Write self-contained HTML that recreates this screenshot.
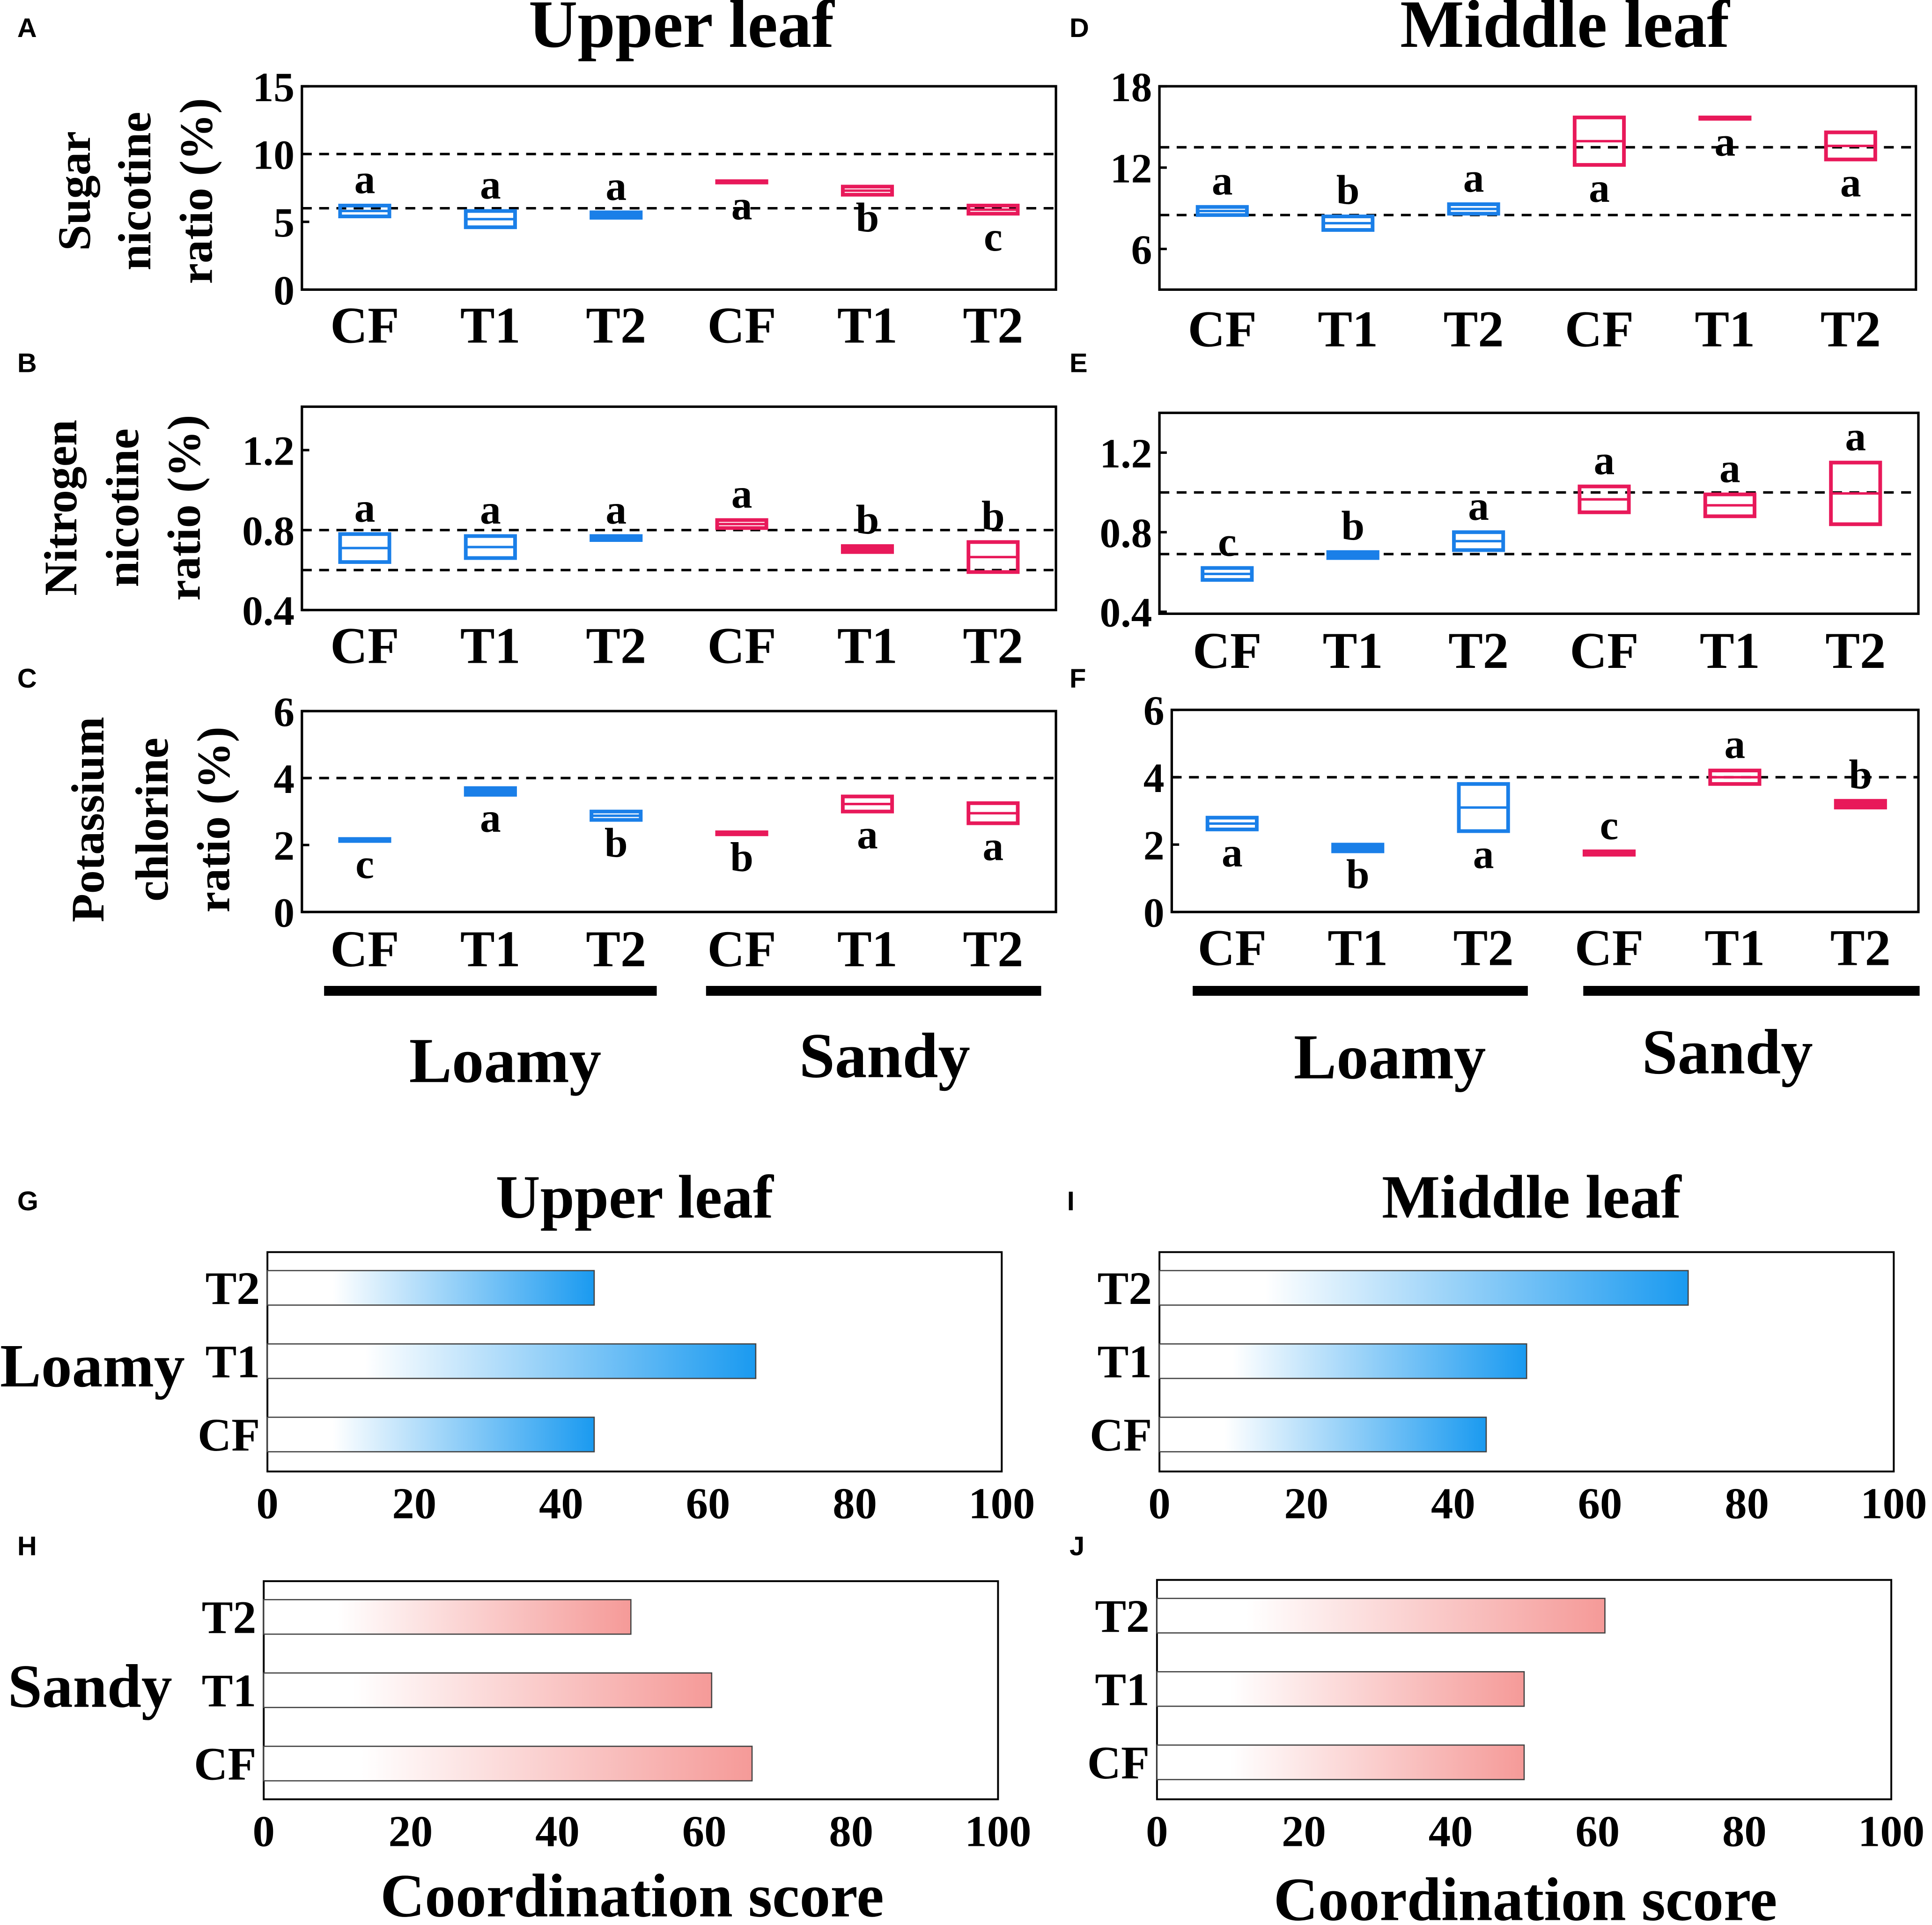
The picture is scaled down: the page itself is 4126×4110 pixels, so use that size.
<!DOCTYPE html>
<html><head><meta charset="utf-8">
<style>
html,body{margin:0;padding:0;background:#fff;}
svg{display:block;}
text{font-family:"Liberation Serif",serif;font-weight:bold;fill:#000;}
.pl{font-family:"Liberation Sans",sans-serif;font-size:22px;}
</style></head>
<body>
<svg id="fig" width="4126" height="4110" viewBox="0 0 1568 1562" xmlns="http://www.w3.org/2000/svg">
<defs>
<linearGradient id="gb" x1="0" y1="0" x2="1" y2="0"><stop offset="0.2" stop-color="#ffffff"/><stop offset="1" stop-color="#1a9af0"/></linearGradient>
<linearGradient id="gr" x1="0" y1="0" x2="1" y2="0"><stop offset="0.2" stop-color="#ffffff"/><stop offset="1" stop-color="#f59a98"/></linearGradient>
</defs>
<g id="root"></g>
</svg>
<script>
// ---- data ----
const categories = ["CF","T1","T2","CF","T1","T2"];
const groupColors = ["#1a7fe8","#1a7fe8","#1a7fe8","#e8195a","#e8195a","#e8195a"];
const A_lo=[5.4,4.6,5.3,7.9,7.0,5.6], A_hi=[6.2,5.8,5.7,8.0,7.6,6.2], A_let=["a","a","a","a","b","c"], A_side=[1,1,1,-1,-1,-1];
const D_lo=[8.5,7.4,8.6,12.2,15.6,12.6], D_hi=[9.1,8.4,9.3,15.7,15.7,14.6], D_let=["a","b","a","a","a","a"], D_side=[1,1,1,-1,-1,-1];
const B_lo=[0.64,0.66,0.75,0.81,0.69,0.59], B_hi=[0.78,0.77,0.77,0.85,0.72,0.74], B_let=["a","a","a","a","b","b"], B_side=[1,1,1,1,1,1];
const E_lo=[0.56,0.67,0.71,0.90,0.88,0.84], E_hi=[0.62,0.70,0.80,1.03,0.99,1.15], E_let=["c","b","a","a","a","a"], E_side=[1,1,1,1,1,1];
const C_lo=[2.12,3.5,2.75,2.32,3.0,2.65], C_hi=[2.18,3.7,3.0,2.38,3.45,3.25], C_let=["c","a","b","b","a","a"], C_side=[-1,-1,-1,-1,-1,-1];
const F_lo=[2.45,1.8,2.4,1.7,3.8,3.1], F_hi=[2.8,2.0,3.8,1.8,4.2,3.3], F_let=["a","b","a","c","a","b"], F_side=[-1,-1,-1,1,1,1];
const barCats=["T2","T1","CF"];
const G_vals=[44.5,66.5,44.5], I_vals=[72,50,44.5], H_vals=[50,61,66.5], J_vals=[61,50,50];
const xTicks=[0,20,40,60,80,100];

const NS="http://www.w3.org/2000/svg";
const root=document.getElementById('root');
function el(tag,attrs,parent,txt){const e=document.createElementNS(NS,tag);for(const k in attrs)e.setAttribute(k,attrs[k]);if(txt!==undefined)e.textContent=txt;(parent||root).appendChild(e);return e;}

function boxPanel(name,p,lo,hi,lets,side,ticks,dashes,catY){
  const g=el('g',{},root);
  
  
  const ys=v=>p.y1-(v-p.vmin)/(p.vmax-p.vmin)*(p.y1-p.y0);
  const xs=i=>p.cx0+i*p.dx;
  const fr=el('rect',{x:p.x0,y:p.y0,width:p.x1-p.x0,height:p.y1-p.y0,fill:'none',stroke:'#000','stroke-width':2},g);
  
  ticks.forEach(t=>{const tx=el('text',{x:p.x0-6,y:ys(t)+12,'font-size':34,'text-anchor':'end'},g,String(t));
    
    el('line',{x1:p.x0,x2:p.x0+6,y1:ys(t),y2:ys(t),stroke:'#000','stroke-width':2},g);});
  dashes.forEach(d=>{const l=el('line',{x1:p.x0,x2:p.x1,y1:ys(d),y2:ys(d),stroke:'#000','stroke-width':2,'stroke-dasharray':'8,6'},g);
    });
  categories.forEach((c,i)=>{
    const x=xs(i),t=ys(hi[i]),b=ys(lo[i]),h=Math.max(b-t,1);
    const r=el('rect',{x:x-20,y:t,width:40,height:h,fill:h<6?groupColors[i]:'none',stroke:groupColors[i],'stroke-width':3},g);
    
    el('line',{x1:x-20,x2:x+20,y1:(t+b)/2,y2:(t+b)/2,stroke:groupColors[i],'stroke-width':2},g);
    const ly=side[i]>0?t-10:b+30;
    const lt=el('text',{x:x,y:ly,'font-size':34,'text-anchor':'middle'},g,lets[i]);
    
    const ct=el('text',{x:x,y:catY,'font-size':42,'text-anchor':'middle'},g,c);
    
  });
}
boxPanel('panel-a',{x0:245,x1:857,y0:70,y1:235,vmin:0,vmax:15,cx0:296,dx:102},A_lo,A_hi,A_let,A_side,[0,5,10,15],[10,6],278);
boxPanel('panel-d',{x0:941,x1:1555,y0:70,y1:235,vmin:3,vmax:18,cx0:992,dx:102},D_lo,D_hi,D_let,D_side,[6,12,18],[13.5,8.5],281);
boxPanel('panel-b',{x0:245,x1:857,y0:330,y1:495,vmin:0.4,vmax:1.417,cx0:296,dx:102},B_lo,B_hi,B_let,B_side,[0.4,0.8,1.2],[0.8,0.6],538);
boxPanel('panel-e',{x0:941,x1:1557,y0:335,y1:498,vmin:0.39,vmax:1.40,cx0:996,dx:102},E_lo,E_hi,E_let,E_side,[0.4,0.8,1.2],[1.0,0.69],542);
boxPanel('panel-c',{x0:245,x1:857,y0:577,y1:740,vmin:0,vmax:6,cx0:296,dx:102},C_lo,C_hi,C_let,C_side,[0,2,4,6],[4],784);
boxPanel('panel-f',{x0:951,x1:1557,y0:576,y1:740,vmin:0,vmax:6,cx0:1000,dx:102},F_lo,F_hi,F_let,F_side,[0,2,4,6],[4],783);

function txt(name,x,y,s,t,anchor,extra){const e=el('text',Object.assign({x:x,y:y,'font-size':s,'text-anchor':anchor||'middle'},extra||{}),root,t);
  return e;}
txt('title-upper-leaf',553,38,55,'Upper leaf');
txt('title-middle-leaf',1270,38,55,'Middle leaf');
[['A',14,30],['D',868,30],['B',14,302],['E',868,302],['C',14,558],['F',868,558],['G',14,982],['I',866,982],['H',14,1262],['J',868,1262]].forEach(a=>{
  const e=txt('panel-letter',a[1],a[2],22,a[0],'start',{class:'pl'});});
function ytitle(name,lines,xs,cy){lines.forEach((l,i)=>{txt(name,xs[i],cy,38,l,'middle',{transform:`rotate(-90 ${xs[i]} ${cy})`});});}
ytitle('y-title-sugar',['Sugar','nicotine','ratio (%)'],[73,122,172],155);
ytitle('y-title-nitrogen',['Nitrogen','nicotine','ratio (%)'],[62,112,162],412);
ytitle('y-title-potassium',['Potassium','chlorine','ratio (%)'],[84,136,186],665);
[[263,533],[573,845],[968,1240],[1285,1558]].forEach(b=>{const r=el('rect',{x:b[0],y:800,width:b[1]-b[0],height:8,fill:'#000'});
  });
txt('group-label-loamy',410,878,52,'Loamy');txt('group-label-sandy',718,874,52,'Sandy');
txt('group-label-loamy',1128,875,52,'Loamy');txt('group-label-sandy',1402,871,52,'Sandy');

function barPanel(name,p,vals,grad){
  const g=el('g',{},root);
  
  
  const xs=v=>p.x0+v/100*(p.x1-p.x0);
  const fr=el('rect',{x:p.x0,y:p.y0,width:p.x1-p.x0,height:p.y1-p.y0,fill:'none',stroke:'#000','stroke-width':1.5},g);
  
  xTicks.forEach(t=>{const e=el('text',{x:xs(t),y:p.y1+38,'font-size':36,'text-anchor':'middle'},g,String(t));
    });
  barCats.forEach((c,i)=>{const cy=p.y0+29+i*59.5;
    const r=el('rect',{x:p.x0,y:cy-14,width:xs(vals[i])-p.x0,height:28,fill:'url(#'+grad+')',stroke:'#444','stroke-width':1},g);
    
    const l=el('text',{x:p.x0-6,y:cy+13,'font-size':38,'text-anchor':'end'},g,c);
    });
}
barPanel('panel-g',{x0:217,x1:813,y0:1016,y1:1194},G_vals,'gb');
barPanel('panel-i',{x0:941,x1:1537,y0:1016,y1:1194},I_vals,'gb');
barPanel('panel-h',{x0:214,x1:810,y0:1283,y1:1460},H_vals,'gr');
barPanel('panel-j',{x0:939,x1:1535,y0:1282,y1:1460},J_vals,'gr');
txt('title-upper-leaf-bars',515,988,50,'Upper leaf');
txt('title-middle-leaf-bars',1243,988,50,'Middle leaf');
txt('row-label-loamy',75,1125,50,'Loamy');
txt('row-label-sandy',73,1385,50,'Sandy');
txt('x-axis-title',513,1555,50,'Coordination score');
txt('x-axis-title',1238,1558,50,'Coordination score');
</script>
</body></html>
